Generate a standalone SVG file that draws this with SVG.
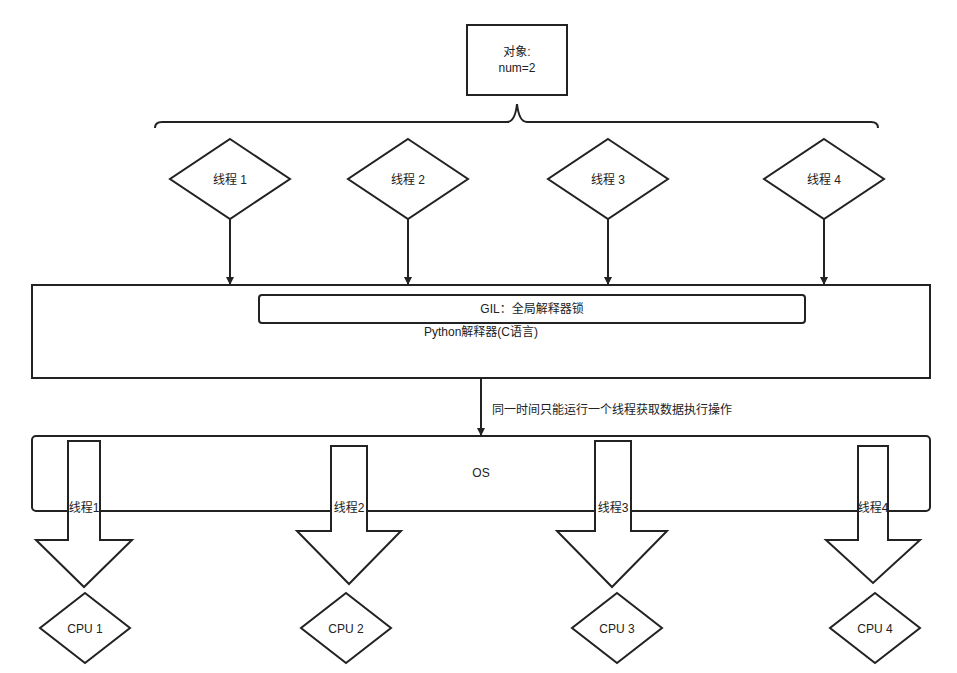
<svg xmlns="http://www.w3.org/2000/svg" width="957" height="673" viewBox="0 0 957 673">
<style>
.s{fill:#fff;stroke:#222;stroke-width:2}
.n{fill:none;stroke:#222;stroke-width:2}
.c{fill:none;stroke:#222;stroke-width:2;marker-end:url(#a)}
text{font-family:"Liberation Sans","Noto Sans CJK SC",sans-serif;font-size:12px;fill:#222;text-anchor:middle}
</style>
<defs><marker id="a" markerWidth="8" markerHeight="8" refX="7" refY="4" orient="auto" markerUnits="userSpaceOnUse" viewBox="0 0 8 8"><path d="M0,0L8,4L0,8z" fill="#222"/></marker></defs>
<rect width="957" height="673" fill="#fff"/>
<g id="obj"><rect class="s" x="467" y="25" width="100" height="70"/><text x="517" y="56">对象:</text><text x="517" y="72">num=2</text></g>
<g id="brace"><path class="n" d="M155,128 Q155,122 162,122 L507,122 Q515,122 517,104 Q519,122 527,122 L871,122 Q878,122 878,128"/></g>
<g id="t1"><path class="s" d="M230,139L290,179L230,219L170,179z"/><text x="230" y="184">线程 1</text></g>
<g id="t2"><path class="s" d="M408,139L468,179L408,219L348,179z"/><text x="408" y="184">线程 2</text></g>
<g id="t3"><path class="s" d="M608,139L668,179L608,219L548,179z"/><text x="608" y="184">线程 3</text></g>
<g id="t4"><path class="s" d="M824,139L884,179L824,219L764,179z"/><text x="824" y="184">线程 4</text></g>
<g id="py"><rect class="s" x="32" y="285" width="898" height="93"/><text x="481" y="336">Python解释器(C语言)</text></g>
<g id="gil"><rect class="s" x="259" y="295" width="546" height="28" rx="3"/><text x="532" y="313">GIL：全局解释器锁</text></g>
<g id="os"><rect class="s" x="32" y="436" width="898" height="75" rx="4"/><text x="481" y="477">OS</text></g>
<g id="connectors">
<path class="c" d="M230,219V284"/><path class="c" d="M408,219V284"/><path class="c" d="M608,219V284"/><path class="c" d="M824,219V284"/><path class="c" d="M481,378V435"/>
<text x="612" y="414">同一时间只能运行一个线程获取数据执行操作</text>
</g>
<g id="a1"><path class="s" d="M68,441H100V540H132L84,587L36,540H68z"/><text x="84" y="512">线程1</text></g>
<g id="a2"><path class="s" d="M331,446H367V531H401L349,584L297,531H331z"/><text x="349" y="512">线程2</text></g>
<g id="a3"><path class="s" d="M595,441H631V531H667L612,587L557,531H595z"/><text x="613" y="512">线程3</text></g>
<g id="a4"><path class="s" d="M858,446H888V540H920L873,583L826,540H858z"/><text x="873" y="512">线程4</text></g>
<g id="c1"><path class="s" d="M85,593L130,628L85,663L40,628z"/><text x="85" y="633">CPU 1</text></g>
<g id="c2"><path class="s" d="M346,593L391,628L346,663L301,628z"/><text x="346" y="633">CPU 2</text></g>
<g id="c3"><path class="s" d="M617,593L662,628L617,663L572,628z"/><text x="617" y="633">CPU 3</text></g>
<g id="c4"><path class="s" d="M875,593L920,628L875,663L830,628z"/><text x="875" y="633">CPU 4</text></g>
</svg>
